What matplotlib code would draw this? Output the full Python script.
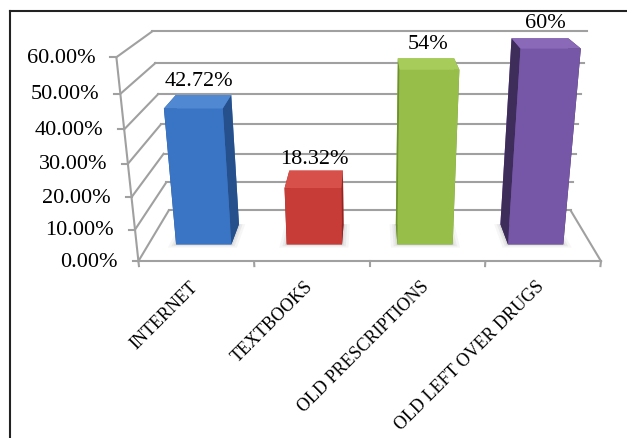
import numpy as np
import matplotlib.pyplot as plt
from matplotlib.lines import Line2D
from mpl_toolkits.mplot3d import proj3d
from mpl_toolkits.mplot3d.art3d import Poly3DCollection

categories = ['INTERNET', 'TEXTBOOKS', 'OLD PRESCRIPTIONS', 'OLD LEFT OVER DRUGS']
values = [42.72, 18.32, 54, 60]
value_labels = ['42.72%', '18.32%', '54%', '60%']
yticks = [0, 10, 20, 30, 40, 50, 60]
ytick_labels = ['0.00%', '10.00%', '20.00%', '30.00%', '40.00%', '50.00%', '60.00%']

# front, top, side face colours per bar
front_cols = ['#3a74c4', '#c83c38', '#96be48', '#7656a6']
top_cols = ['#5088d2', '#d8504a', '#a8cc5a', '#8a6ab8']
side_cols = ['#25508c', '#8e2624', '#6e9030', '#3e2c5a']

plt.rcParams['font.family'] = 'Liberation Serif'
grid_c = '#a0a0a0'
grid_lw = 1.5

fig = plt.figure(figsize=(6.27, 4.39), dpi=100)
ax = fig.add_axes([0.262, 0.205, 0.638, 0.911], projection='3d',
                  computed_zorder=False)
ax.set_proj_type('persp', focal_length=0.36)
ax.view_init(elev=19, azim=-90)
ax.set_box_aspect((483, 130, 217), zoom=1.228)
ax.set_xlim(0, 4)
ax.set_ylim(0, 1)
ax.set_zlim(0, 60)
ax.set_axis_off()


def line(xx, yy, zz):
    ax.plot(xx, yy, zz, color=grid_c, lw=grid_lw, clip_on=False, zorder=1)


n = len(categories)
for v in yticks:
    line([0, n], [1, 1], [v, v])        # back wall
    line([0, 0], [0, 1], [v, v])        # left wall
    line([-0.05, 0], [0, 0], [v, v])    # value ticks
line([0, 0], [0, 0], [0, 60])
line([0, n], [0, 0], [0, 0])
line([n, n], [0, 1], [0, 0])
for i in range(n + 1):
    line([i, i], [0, 0], [0, -1.6])

# bars
bw, bd, by = 0.5, 0.4, 0.3
xs = np.arange(n) + 0.5 - bw / 2

# soft shadows on the floor
for x0 in xs:
    for pad, a in [(0.06, 0.06), (0.035, 0.09), (0.015, 0.12)]:
        sh = Poly3DCollection([[(x0 - pad, by - pad, 0), (x0 + bw + pad, by - pad, 0),
                                (x0 + bw + pad, by + bd, 0), (x0 - pad, by + bd, 0)]],
                              facecolor='#707070', edgecolor='none', alpha=a)
        sh.set_zorder(2)
        sh.set_clip_on(False)
        ax.add_collection3d(sh)

facecols = []
for i in range(n):
    facecols += [side_cols[i], top_cols[i], front_cols[i], front_cols[i],
                 side_cols[i], side_cols[i]]
bars = ax.bar3d(xs, np.full(n, by), np.zeros(n), bw, bd, values,
                color=facecols, shade=False, edgecolor='none')
bars.set_clip_on(False)
bars.set_zorder(3)

M = ax.get_proj()


def proj(x, y, z):
    px, py, _ = proj3d.proj_transform(x, y, z, M)
    return px, py


for v, lab in zip(yticks, ytick_labels):
    ax.annotate(lab, proj(0, 0, v), xytext=(-15, 0), textcoords='offset points',
                ha='right', va='center', fontsize=16, zorder=100,
                annotation_clip=False)

for i, (cat, v, lab) in enumerate(zip(categories, values, value_labels)):
    ax.annotate(cat, proj(i + 0.5, 0, 0), xytext=(-1, -16), textcoords='offset points',
                ha='right', va='center', rotation=45, rotation_mode='anchor',
                fontsize=13, zorder=100, annotation_clip=False)
    ax.annotate(lab, proj(i + 0.5, by + bd / 2, v), xytext=(0, 8),
                textcoords='offset points', ha='center', va='bottom',
                fontsize=16, zorder=100, annotation_clip=False)

# outer frame
fig.add_artist(Line2D([10 / 627, 10 / 627], [0, 1 - 12 / 439], color='#222222', lw=1.5))
fig.add_artist(Line2D([10 / 627, 1], [1 - 12 / 439, 1 - 12 / 439], color='#222222', lw=1.5))

fig.savefig('out.png', dpi=100)
